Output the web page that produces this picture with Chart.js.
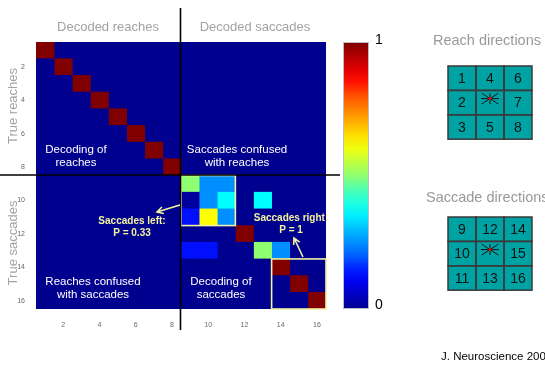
<!DOCTYPE html>
<html>
<head>
<meta charset="utf-8">
<script src="https://cdn.jsdelivr.net/npm/chart.js@4"></script>
<style>
  html, body { margin: 0; background: #fff; }
</style>
</head>
<body>
<canvas id="matrix" width="545" height="367"></canvas>
<script>
const directions = ["1", "2", "3", "4", "5", "6", "7", "8", "9", "10", "11", "12", "13", "14", "15", "16"];
const xTicks = [2, 4, 6, 8, 10, 12, 14, 16];

// rows = true direction, columns = decoded direction
const confusion = [
  [1, 0, 0, 0, 0, 0, 0, 0, 0, 0, 0, 0, 0, 0, 0, 0],
  [0, 1, 0, 0, 0, 0, 0, 0, 0, 0, 0, 0, 0, 0, 0, 0],
  [0, 0, 1, 0, 0, 0, 0, 0, 0, 0, 0, 0, 0, 0, 0, 0],
  [0, 0, 0, 1, 0, 0, 0, 0, 0, 0, 0, 0, 0, 0, 0, 0],
  [0, 0, 0, 0, 1, 0, 0, 0, 0, 0, 0, 0, 0, 0, 0, 0],
  [0, 0, 0, 0, 0, 1, 0, 0, 0, 0, 0, 0, 0, 0, 0, 0],
  [0, 0, 0, 0, 0, 0, 1, 0, 0, 0, 0, 0, 0, 0, 0, 0],
  [0, 0, 0, 0, 0, 0, 0, 1, 0, 0, 0, 0, 0, 0, 0, 0],
  [0, 0, 0, 0, 0, 0, 0, 0, 0.5, 0.25, 0.25, 0, 0, 0, 0, 0],
  [0, 0, 0, 0, 0, 0, 0, 0, 0.02, 0.25, 0.37, 0, 0.36, 0, 0, 0],
  [0, 0, 0, 0, 0, 0, 0, 0, 0.13, 0.62, 0.25, 0, 0, 0, 0, 0],
  [0, 0, 0, 0, 0, 0, 0, 0, 0, 0, 0, 1, 0, 0, 0, 0],
  [0, 0, 0, 0, 0, 0, 0, 0, 0.13, 0.13, 0, 0, 0.5, 0.25, 0, 0],
  [0, 0, 0, 0, 0, 0, 0, 0, 0, 0, 0, 0, 0, 1, 0, 0],
  [0, 0, 0, 0, 0, 0, 0, 0, 0, 0, 0, 0, 0, 0, 1, 0],
  [0, 0, 0, 0, 0, 0, 0, 0, 0, 0, 0, 0, 0, 0, 0, 1],
];

const reachGrid = [["1", "4", "6"], ["2", "", "7"], ["3", "5", "8"]];
const saccadeGrid = [["9", "12", "14"], ["10", "", "15"], ["11", "13", "16"]];
const colorbarLabels = ["0", "1"];

const FONT = "'Liberation Sans', Arial, sans-serif";
const NOTE = "#f2f2a0";

// matlab style jet(64)
function jet(v) {
  const x = (Math.round(v * 63) + 1) / 64;
  const c = t => Math.round(Math.max(0, Math.min(1, t)) * 255);
  const r = c(1.5 - Math.abs(4 * x - 3));
  const g = c(1.5 - Math.abs(4 * x - 2));
  const b = c(1.5 - Math.abs(4 * x - 1));
  return `rgb(${r},${g},${b})`;
}

const datasets = directions.map((d, c) => ({
  label: d,
  data: directions.map(() => [c + 0.5, c + 1.5]),
  backgroundColor: confusion.map(row => jet(row[c])),
  borderWidth: 0,
  grouped: false,
  barPercentage: 1,
  categoryPercentage: 1,
}));

function text(ctx, str, x, y, font, color, align) {
  ctx.font = font;
  ctx.fillStyle = color;
  ctx.textAlign = align || "center";
  ctx.textBaseline = "middle";
  ctx.fillText(str, x, y);
}

function arrow(ctx, x1, y1, x2, y2) {
  const ang = Math.atan2(y2 - y1, x2 - x1);
  ctx.beginPath();
  ctx.moveTo(x1, y1);
  ctx.lineTo(x2, y2);
  ctx.moveTo(x2 - 7 * Math.cos(ang - 0.5), y2 - 7 * Math.sin(ang - 0.5));
  ctx.lineTo(x2, y2);
  ctx.lineTo(x2 - 7 * Math.cos(ang + 0.5), y2 - 7 * Math.sin(ang + 0.5));
  ctx.stroke();
}

function dirGrid(ctx, left, top, labels) {
  const w = 28, h = 24.4;
  ctx.fillStyle = "#00a3a3";
  ctx.fillRect(left, top, w * 3, h * 3);
  ctx.strokeStyle = "#3a3a3a";
  ctx.lineWidth = 1.5;
  for (let r = 0; r < 3; r++) {
    for (let c = 0; c < 3; c++) {
      ctx.strokeRect(left + c * w, top + r * h, w, h);
      if (labels[r][c]) {
        text(ctx, labels[r][c], left + c * w + w / 2, top + r * h + h / 2 + 1, "14px " + FONT, "#111");
      }
    }
  }
  // fixation star
  const cx = left + 1.5 * w, cy = top + 1.5 * h - 4;
  ctx.strokeStyle = "#111";
  ctx.lineWidth = 1;
  ctx.beginPath();
  ctx.moveTo(cx - 9, cy); ctx.lineTo(cx + 9, cy);
  ctx.moveTo(cx, cy - 5.5); ctx.lineTo(cx, cy + 5.5);
  const dx = 10 * Math.cos(0.58), dy = 10 * Math.sin(0.58);
  ctx.moveTo(cx - dx, cy - dy); ctx.lineTo(cx + dx, cy + dy);
  ctx.moveTo(cx - dx, cy + dy); ctx.lineTo(cx + dx, cy - dy);
  ctx.stroke();
  ctx.fillStyle = "#e01010";
  ctx.beginPath();
  ctx.arc(cx, cy, 1.6, 0, Math.PI * 2);
  ctx.fill();
}

const overlay = {
  id: "overlay",
  beforeDatasetsDraw(chart) {
    const { ctx, chartArea: a } = chart;
    ctx.save();
    ctx.fillStyle = jet(0);
    ctx.fillRect(a.left, a.top, a.right - a.left, a.bottom - a.top);
    ctx.restore();
  },
  afterDraw(chart) {
    const { ctx, chartArea: a } = chart;
    const xs = chart.scales.x, ys = chart.scales.y;
    const ch = (a.bottom - a.top) / directions.length;
    const rowTop = i => ys.getPixelForValue(i) - ch / 2;
    const rowBot = i => ys.getPixelForValue(i) + ch / 2;
    ctx.save();

    // highlight boxes
    ctx.strokeStyle = NOTE;
    ctx.lineWidth = 1.6;
    let x0 = xs.getPixelForValue(8.5), x1 = xs.getPixelForValue(11.5);
    ctx.strokeRect(x0, rowTop(8), x1 - x0, rowBot(10) - rowTop(8));
    x0 = xs.getPixelForValue(13.5); x1 = xs.getPixelForValue(16.5);
    ctx.strokeRect(x0, rowTop(13), x1 - x0, rowBot(15) - rowTop(13));

    // quadrant lines
    const vx = xs.getPixelForValue(8.5) - 0.5, hy = rowTop(8) - 0.5;
    ctx.strokeStyle = "#000";
    ctx.lineWidth = 1.6;
    ctx.beginPath();
    ctx.moveTo(vx, 8); ctx.lineTo(vx, 330);
    ctx.moveTo(0, hy); ctx.lineTo(340, hy);
    ctx.stroke();

    // titles
    const gray = "#a3a3a3";
    const tf = "13px " + FONT;
    text(ctx, "Decoded reaches", 108, 27, tf, gray);
    text(ctx, "Decoded saccades", 255, 27, tf, gray);
    ctx.save();
    ctx.translate(13, 106); ctx.rotate(-Math.PI / 2);
    text(ctx, "True reaches", 0, 0, tf, gray);
    ctx.restore();
    ctx.save();
    ctx.translate(13, 243); ctx.rotate(-Math.PI / 2);
    text(ctx, "True saccades", 0, 0, tf, gray);
    ctx.restore();

    // quadrant notes
    const wf = "11.5px " + FONT;
    text(ctx, "Decoding of", 76, 150, wf, "#fff");
    text(ctx, "reaches", 76, 163, wf, "#fff");
    text(ctx, "Saccades confused", 237, 150, wf, "#fff");
    text(ctx, "with reaches", 237, 163, wf, "#fff");
    text(ctx, "Reaches confused", 93, 282, wf, "#fff");
    text(ctx, "with saccades", 93, 295, wf, "#fff");
    text(ctx, "Decoding of", 221, 282, wf, "#fff");
    text(ctx, "saccades", 221, 295, wf, "#fff");

    const bf = "bold 10px " + FONT;
    text(ctx, "Saccades left:", 132, 221, bf, NOTE);
    text(ctx, "P = 0.33", 132, 233, bf, NOTE);
    text(ctx, "Saccades right:", 291, 218, bf, NOTE);
    text(ctx, "P = 1", 291, 230, bf, NOTE);
    ctx.strokeStyle = NOTE;
    ctx.lineWidth = 1.6;
    arrow(ctx, 180, 205, 157, 212);
    arrow(ctx, 303, 257, 294, 238);

    // colorbar
    const cbL = 343, cbR = 369;
    const grad = ctx.createLinearGradient(0, a.bottom, 0, a.top);
    for (let i = 0; i <= 20; i++) grad.addColorStop(i / 20, jet(i / 20));
    ctx.fillStyle = grad;
    ctx.fillRect(cbL, a.top, cbR - cbL, a.bottom - a.top);
    ctx.strokeStyle = "#b8bccc";
    ctx.lineWidth = 1;
    ctx.strokeRect(cbL + 0.5, a.top + 0.5, cbR - cbL - 1, a.bottom - a.top - 1);
    text(ctx, colorbarLabels[1], 375, 40, "14px " + FONT, "#000", "left");
    text(ctx, colorbarLabels[0], 375, 305, "14px " + FONT, "#000", "left");

    // direction layouts
    text(ctx, "Reach directions", 433, 41, "14.5px " + FONT, "#999", "left");
    dirGrid(ctx, 448, 66, reachGrid);
    text(ctx, "Saccade directions", 426, 198, "14.5px " + FONT, "#999", "left");
    dirGrid(ctx, 448, 217, saccadeGrid);

    text(ctx, "J. Neuroscience 200", 441, 357, "11.5px " + FONT, "#000", "left");
    ctx.restore();
  },
};

new Chart(document.getElementById("matrix"), {
  type: "bar",
  data: { labels: directions, datasets: datasets },
  options: {
    indexAxis: "y",
    responsive: false,
    animation: false,
    layout: { padding: { top: 42, right: 219, left: 0, bottom: 0 } },
    plugins: { legend: { display: false }, tooltip: { enabled: false } },
    scales: {
      x: {
        type: "linear",
        min: 0.5,
        max: 16.5,
        grid: { display: false },
        border: { display: false },
        afterBuildTicks: scale => { scale.ticks = xTicks.map(v => ({ value: v })); },
        afterFit: scale => { scale.height = 58; },
        ticks: { color: "#666", font: { size: 7, family: FONT }, padding: 4 },
      },
      y: {
        grid: { display: false },
        border: { display: false },
        afterFit: scale => { scale.width = 36; },
        ticks: {
          color: "#666",
          font: { size: 7, family: FONT },
          padding: 3,
          autoSkip: false,
          callback: (v, i) => (i % 2 === 1 ? directions[i] : ""),
        },
      },
    },
  },
  plugins: [overlay],
});
</script>
</body>
</html>
